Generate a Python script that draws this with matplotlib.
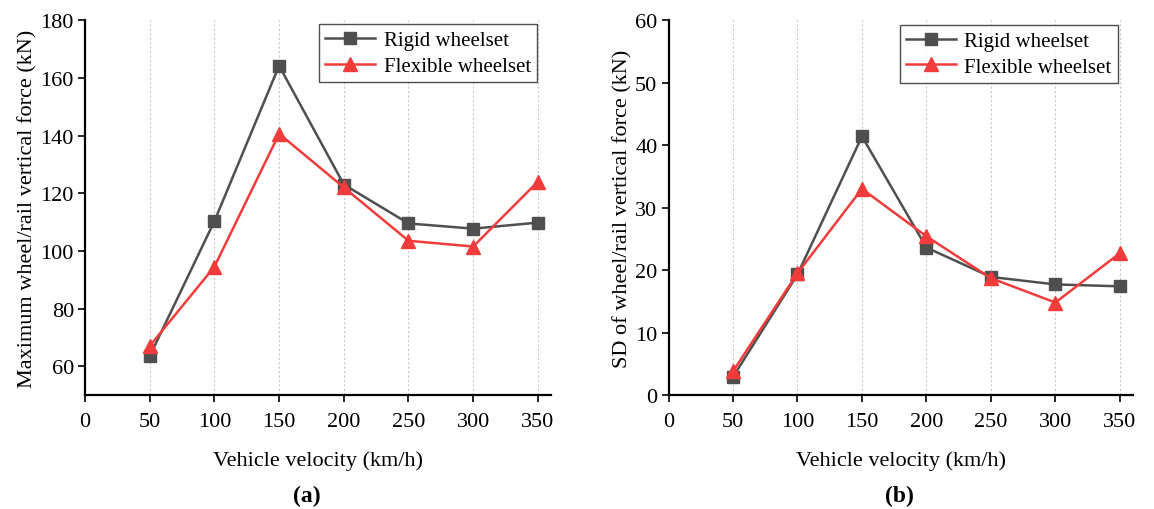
import numpy as np
import matplotlib
matplotlib.use("Agg")
import matplotlib.pyplot as plt

plt.rcParams['font.family'] = ['Liberation Serif', 'DejaVu Serif']

velocity = [50, 100, 150, 200, 250, 300, 350]

# (a) maximum wheel/rail vertical force (kN)
max_rigid = [63.5, 110.3, 164.2, 123.0, 109.5, 107.7, 109.8]
max_flex = [67.0, 94.5, 140.6, 122.0, 103.5, 101.5, 124.0]

# (b) SD of wheel/rail vertical force (kN)
sd_rigid = [2.9, 19.3, 41.4, 23.6, 18.9, 17.7, 17.4]
sd_flex = [3.8, 19.5, 33.0, 25.4, 18.7, 14.8, 22.7]

x_ticks = [0, 50, 100, 150, 200, 250, 300, 350]

c_rigid = '#4f4f4f'
c_flex = '#f23c3c'
fs = 16


def draw(ax, rigid, flex, ylim, yticks, ylabel, leg_anchor):
    for v in velocity:
        ax.axvline(v, color='#c8c8c8', lw=0.8, ls=(0, (2, 2)), zorder=0)
    ax.plot(velocity, rigid, color=c_rigid, lw=1.8, marker='s', ms=8,
            label='Rigid wheelset', zorder=3)
    ax.plot(velocity, flex, color=c_flex, lw=1.8, marker='^', ms=10,
            label='Flexible wheelset', zorder=4)
    ax.set_xlim(0, 360)
    ax.set_ylim(*ylim)
    ax.set_xticks(x_ticks)
    ax.set_yticks(yticks)
    ax.spines['top'].set_visible(False)
    ax.spines['right'].set_visible(False)
    ax.spines['left'].set_linewidth(1.6)
    ax.spines['bottom'].set_linewidth(1.6)
    ax.tick_params(direction='out', length=5, width=1.2, labelsize=fs)
    ax.tick_params(axis='x', pad=7)
    ax.tick_params(axis='y', pad=3)
    ax.set_xlabel('Vehicle velocity (km/h)', fontsize=fs, labelpad=14)
    ax.set_ylabel(ylabel, fontsize=fs, labelpad=2)
    leg = ax.legend(loc='upper right', bbox_to_anchor=leg_anchor, fontsize=15,
                    frameon=True, fancybox=False, edgecolor='#222222',
                    handlelength=2.4, borderpad=0.3, labelspacing=0.3,
                    handletextpad=0.4, borderaxespad=0)
    leg.get_frame().set_linewidth(1.0)


fig = plt.figure(figsize=(11.54, 5.10), dpi=100)
ax1 = fig.add_axes([0.0737, 0.2235, 0.4036, 0.735])
ax2 = fig.add_axes([0.5793, 0.2235, 0.4023, 0.735])

draw(ax1, max_rigid, max_flex, (50, 180), np.arange(60, 181, 20),
     'Maximum wheel/rail vertical force (kN)', (0.9706, 0.989))
draw(ax2, sd_rigid, sd_flex, (0, 60), np.arange(0, 61, 10),
     'SD of wheel/rail vertical force (kN)', (0.968, 0.987))

fig.text(307 / 1154, 1 - 496 / 510, '(a)', fontsize=17, fontweight='bold',
         ha='center', va='center')
fig.text(899 / 1154, 1 - 496 / 510, '(b)', fontsize=17, fontweight='bold',
         ha='center', va='center')

fig.savefig('out.png', dpi=100)
